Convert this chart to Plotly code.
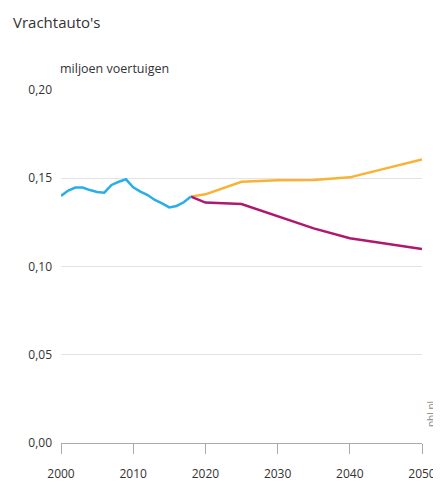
import plotly.graph_objects as go

hist_years = list(range(2000, 2019))
hist_vals = [0.140, 0.143, 0.1447, 0.1447, 0.1433, 0.1422, 0.1418, 0.1462, 0.148, 0.1494,
             0.1449, 0.1424, 0.1405, 0.1377, 0.1358, 0.1335, 0.1343, 0.1364, 0.1396]

proj_years = [2018, 2020, 2025, 2030, 2035, 2040, 2045, 2050]
high_vals = [0.1396, 0.1409, 0.148, 0.1488, 0.149, 0.1505, 0.1556, 0.1607]
low_vals = [0.1396, 0.1362, 0.1354, 0.1286, 0.1216, 0.116, 0.1131, 0.1099]

x_ticks = [2000, 2010, 2020, 2030, 2040, 2050]
y_ticks = [0.0, 0.05, 0.10, 0.15, 0.20]

FONT = "Open Sans"
L, R, T, B = 53, 19, 82, 39
W, H = 433, 474
PW = W - L - R
PH = H - T - B

fig = go.Figure()
fig.add_trace(go.Scatter(x=proj_years, y=high_vals, mode="lines",
                         line=dict(color="#F9B233", width=2.5), hoverinfo="skip"))
fig.add_trace(go.Scatter(x=proj_years, y=low_vals, mode="lines",
                         line=dict(color="#B0186F", width=2.5), hoverinfo="skip"))
fig.add_trace(go.Scatter(x=hist_years, y=hist_vals, mode="lines",
                         line=dict(color="#2AAEE6", width=2.5), hoverinfo="skip"))

fig.update_layout(
    width=W, height=H,
    margin=dict(l=L, r=R, t=T, b=B, autoexpand=False),
    paper_bgcolor="white", plot_bgcolor="white",
    showlegend=False,
    separators=",.",
    font=dict(family=FONT, color="#444444", size=12),
    xaxis=dict(range=[2000, 2050], tickvals=x_ticks, showgrid=False, zeroline=False,
               showline=True, linecolor="#AAAAAA", linewidth=1,
               ticks="outside", ticklen=10, tickcolor="#AAAAAA",
               ticklabelstandoff=10,
               tickfont=dict(family=FONT, size=12, color="#333333")),
    yaxis=dict(range=[0, 0.2], tickvals=y_ticks, tickformat=".2f",
               showgrid=True, gridcolor="#E3E3E3", gridwidth=1, zeroline=False,
               showline=False, ticks="", ticklabelstandoff=8,
               tickfont=dict(family=FONT, size=12, color="#333333")),
    annotations=[
        dict(text="Vrachtauto's", xref="paper", yref="paper", x=(3 - L) / PW, y=1 + 68 / PH,
             xanchor="left", yanchor="middle", showarrow=False,
             font=dict(family=FONT, size=15, color="#333333")),
        dict(text="miljoen voertuigen", xref="paper", yref="paper", x=(50 - L) / PW, y=1 + 21 / PH,
             xanchor="left", yanchor="middle", showarrow=False,
             font=dict(family=FONT, size=12.5, color="#333333")),
        dict(text="pbl.nl", xref="paper", yref="paper", x=1 + 9 / PW, y=29 / PH,
             xanchor="center", yanchor="middle", showarrow=False, textangle=-90,
             font=dict(family=FONT, size=10, color="#888888")),
    ],
)

fig.write_html("out.html")
